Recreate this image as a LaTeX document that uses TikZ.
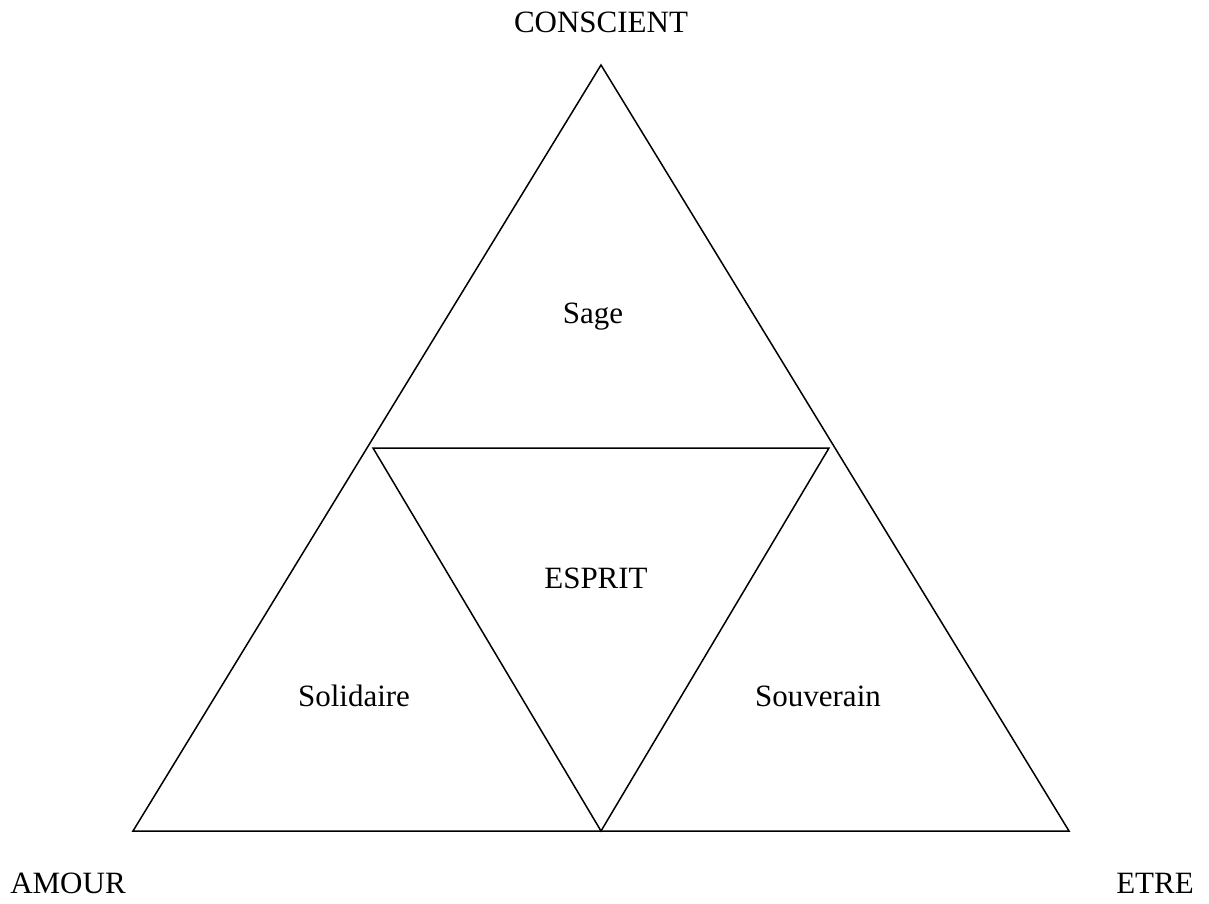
\documentclass[tikz,border=0pt]{standalone}
\usepackage{fontspec}
\setmainfont{Liberation Serif}
\begin{document}
\begin{tikzpicture}[x=1pt,y=-1pt,
  edge/.style={draw=black,line width=1.5pt,line join=miter},
  lbl/.style={anchor=base,inner sep=0pt,font=\fontsize{31}{37}\selectfont}]
\useasboundingbox (0,0) rectangle (1209,904);
\coordinate (top) at (601,65);
\coordinate (bl) at (133,831);
\coordinate (br) at (1069,831);
\coordinate (il) at (373,448);
\coordinate (ir) at (829,448);
\coordinate (ib) at (601,831);
\draw[edge] (top) -- (bl) -- (br) -- cycle;
\draw[edge] (il) -- (ir) -- (ib) -- cycle;
\node[lbl] (conscient) at (601,33) {CONSCIENT};
\node[lbl] (amour) at (68,893) {AMOUR};
\node[lbl] (etre) at (1155,893) {ETRE};
\node[lbl] (sage) at (593,323) {Sage};
\node[lbl] (esprit) at (596,588) {ESPRIT};
\node[lbl] (solidaire) at (354,706) {Solidaire};
\node[lbl] (souverain) at (818,706) {Souverain};
\end{tikzpicture}
\end{document}
